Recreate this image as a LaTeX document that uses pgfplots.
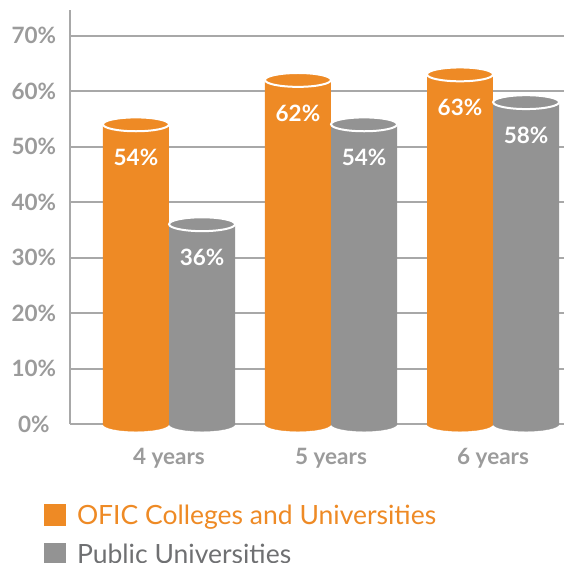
\documentclass[border=0pt]{standalone}
\usepackage{pgfplots}
\pgfplotsset{compat=1.18}
\usepackage{pgfplotstable}
\usepackage{fontspec}
\setmainfont{Lato}
\definecolor{ofic}{HTML}{EE8A25}
\definecolor{pub}{HTML}{939393}
\definecolor{tickc}{HTML}{9B9B9B}
\definecolor{gridc}{HTML}{A8A8A8}
\definecolor{legpub}{HTML}{6F7072}

\pgfplotstableread{
x ofic pub
0 54 36
1 62 54
2 63 58
}\data

\begin{document}
\begin{tikzpicture}
\path[use as bounding box, clip] (0pt,0pt) rectangle (564pt,-562pt);
\begin{axis}[
  at={(70pt,-424pt)}, anchor=south west,
  scale only axis, width=494pt, height=414pt,
  xmin=-0.611, xmax=2.438, ymin=0, ymax=74.6,
  clip=false,
  axis x line=bottom, axis y line=left,
  x axis line style={draw=none},
  y axis line style={gridc, line width=2pt, -},
  xtick={0,1,2}, xticklabels={4 years,5 years,6 years},
  xtick style={draw=none},
  ytick={0,10,...,70},
  ytick style={draw=none},
  /pgf/number format/assume math mode=true,
  yticklabel={\pgfmathprintnumber{\tick}\%},
  ymajorgrids, major grid style={gridc, line width=2pt},
  yticklabel style={anchor=center, xshift=-34pt, text=tickc, font=\bfseries\fontsize{22.5}{26}\selectfont},
  xticklabel style={anchor=base, yshift=-38pt, text=tickc, font=\bfseries\fontsize{22.5}{26}\selectfont},
  legend style={at={(axis description cs:-0.053,-0.19)}, anchor=north west, draw=none, fill=none, inner sep=0pt, row sep=14pt,
    font=\fontsize{26.5}{30}\selectfont,
    /tikz/every odd column/.append style={column sep=9pt}},
  legend cell align=left,
  legend image code/.code={\fill[#1] (0pt,-11pt) rectangle (22pt,11pt);},
  every node near coord/.append style={anchor=center, yshift=-33pt, text=white, font=\bfseries\fontsize{22.5}{26}\selectfont},
]
% bottom ellipses
\addplot[only marks, mark=*, mark size=33pt, mark options={yscale=0.22, fill=ofic, draw=ofic}, forget plot]
  table[x expr=\thisrow{x}-0.204, y expr=0]{\data};
\addplot[only marks, mark=*, mark size=33pt, mark options={yscale=0.22, fill=pub, draw=pub}, forget plot]
  table[x expr=\thisrow{x}+0.204, y expr=0]{\data};
% bars
\addplot[ybar, bar width=0.407, bar shift=-0.204, fill=ofic, draw=none, forget plot]
  table[x=x, y=ofic]{\data};
\addplot[ybar, bar width=0.407, bar shift=0.204, fill=pub, draw=none, forget plot]
  table[x=x, y=pub]{\data};
% top ellipses with value labels
\addplot[only marks, mark=*, mark size=33pt, mark options={yscale=0.21, fill=ofic, draw=white, line width=2pt}, forget plot,
  nodes near coords={\pgfmathprintnumber{\pgfplotspointmeta}\%}]
  table[x expr=\thisrow{x}-0.204, y=ofic]{\data};
\addplot[only marks, mark=*, mark size=33pt, mark options={yscale=0.21, fill=pub, draw=white, line width=2pt}, forget plot,
  nodes near coords={\pgfmathprintnumber{\pgfplotspointmeta}\%}]
  table[x expr=\thisrow{x}+0.204, y=pub]{\data};
\addlegendimage{fill=ofic, draw=none}
\addlegendentry{\textcolor{ofic}{OFIC Colleges and Universities}}
\addlegendimage{fill=pub, draw=none}
\addlegendentry{\textcolor{legpub}{Public Universities}}
\end{axis}
\end{tikzpicture}
\end{document}
